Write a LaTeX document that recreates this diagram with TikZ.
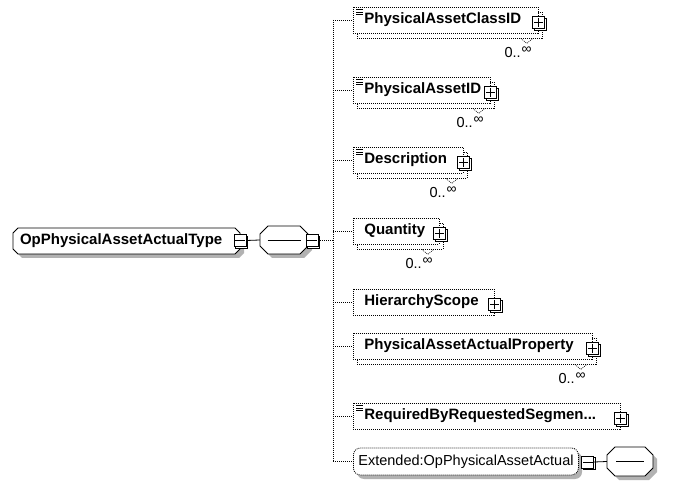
\documentclass[tikz,border=0pt]{standalone}
\usepackage{fontspec}
\setmainfont{Liberation Sans}
\usetikzlibrary{calc,shadows}
\colorlet{shadowgrey}{black!30}
% chamfered outline with a soft grey shadow: x1, y1, x2, y2, chamfer
\newcommand\octobox[5]{%
  \fill[shadowgrey] ({#1+#5+4},{#2+4}) -- ({#3-#5+4},{#2+4}) -- ({#3+4},{#2+#5+4}) -- ({#3+4},{#4-#5+4})
    -- ({#3-#5+4},{#4+4}) -- ({#1+#5+4},{#4+4}) -- ({#1+4},{#4-#5+4}) -- ({#1+4},{#2+#5+4}) -- cycle;
  \draw[line width=0.8pt,fill=white] ({#1+#5},#2) -- ({#3-#5},#2) -- (#3,{#2+#5}) -- (#3,{#4-#5})
    -- ({#3-#5},#4) -- ({#1+#5},#4) -- (#1,{#4-#5}) -- (#1,{#2+#5}) -- cycle;}
\begin{document}
\begin{tikzpicture}[x=1pt,y=-1pt,
  dotline/.style={line width=0.8pt,dash pattern=on 1pt off 1pt},
  namefont/.style={font=\fontsize{15}{18}\selectfont\bfseries},
  plainfont/.style={font=\fontsize{14.5}{17}\selectfont},
  elem/.style={rectangle,draw,dotline,fill=white,namefont,minimum height=26pt,
    inner xsep=11pt,inner ysep=0pt,align=left,anchor=west},
  multi/.style={general shadow={shadow xshift=4pt,shadow yshift=-5pt,draw=black,fill=white,dotline}},
  btn/.style={rectangle,draw,fill=white,line width=0.8pt,minimum size=12pt,inner sep=0pt,
    general shadow={shadow xshift=1.5pt,shadow yshift=-1.5pt,draw=black,fill=white,line width=0.8pt}},
  minusbtn/.style={btn,path picture={\draw[line width=0.8pt] ($(path picture bounding box.center)+(-5,0)$) -- +(10,0);}},
  plusbtn/.style={btn,path picture={
     \draw[line width=0.8pt] ($(path picture bounding box.center)+(-4.5,0)$) -- +(9,0);
     \draw[line width=0.8pt] ($(path picture bounding box.center)+(0,-4.5)$) -- +(0,9);}},
  octo/.style={rectangle,inner sep=0pt},
  card/.style={plainfont,inner sep=0pt,anchor=base east},
  notch/.style={line width=0.6pt,dash pattern=on 1pt off 1pt},
  docline/.style={line width=0.6pt}
]
\useasboundingbox (0,0) rectangle (678,486);
\fill[white] (0,0) rectangle (678,486);

% spine of the sequence
\coordinate (bus) at (333,240);

% root element and its sequence compositor
\octobox{13}{228}{240}{254}{5}
\octobox{260}{226}{308}{254}{8}
\node[rectangle,namefont,minimum width=227pt,minimum height=26pt,inner xsep=7pt,inner ysep=0pt,
  text width=213pt,align=left] (root) at (126.5,241) {OpPhysicalAssetActualType};
\node[octo,minimum width=48pt,minimum height=28pt] (seq) at (284,240) {};
\draw[line width=0.8pt] ($(seq.center)+(-16.5,0)$) -- +(33,0);
\node[minusbtn] (rootbtn) at (240,240.5) {};
\node[minusbtn] (seqbtn) at (312,240.5) {};
\draw[line width=0.8pt] (rootbtn.east) -- (seq.west);

% children
\node[elem,multi,text width=163pt] (c1) at (353,20) {PhysicalAssetClassID};
\node[elem,multi,text width=115pt] (c2) at (353,90) {PhysicalAssetID};
\node[elem,multi,text width=88pt] (c3) at (353,160) {Description};
\node[elem,multi,text width=64pt] (c4) at (353,231) {Quantity};
\node[elem,text width=119pt] (c5) at (353,302) {HierarchyScope};
\node[elem,multi,text width=217pt] (c6) at (353,346) {PhysicalAssetActualProperty};
\node[elem,text width=245pt] (c7) at (353,416) {RequiredByRequestedSegmen...};
\fill[shadowgrey,rounded corners=7pt] (357,452) rectangle (582,479);
\node[rectangle,rounded corners=7pt,draw,dotline,fill=white,plainfont,
  minimum height=27pt,inner xsep=5pt,inner ysep=0pt,text width=215pt,align=left,anchor=west]
  (c8) at (353,461.5) {Extended:OpPhysicalAssetActual};

% connectors from the spine
\draw[dotline] (seqbtn.east) -- (seqbtn.east -| bus);
\draw[dotline] (c1.west -| bus) -- (c8.west -| bus);
\foreach \c in {c1,c2,c3,c4,c5,c6,c7,c8}
  \draw[dotline] (\c.west -| bus) -- (\c.west);

% expand buttons
\foreach \c in {c1,c2,c3,c4,c5,c6,c7}
  \node[plusbtn] (\c btn) at ($(\c.east)+(0,2.5)$) {};

% documentation marks
\foreach \c in {c1,c2,c3,c7}
  \foreach \d in {3,5.5,8}
    \draw[docline] ($(\c.north west)+(3,\d)$) -- +(7,0);

% occurrence labels
\foreach \c in {c1,c2,c3,c4,c6}{
  \draw[notch] ($(\c.south east)+(-18,5)$) -- ++(6,5) -- ++(6,-5);
  \node[card] (\c occ) at ($(\c.south east)+(-7,24)$) {0..\hspace{1pt}\raisebox{3.5pt}{\fontsize{14}{14}\selectfont ∞}};
}

% extension branch
\octobox{607}{447}{653}{476}{8}
\node[minusbtn] (xbtn) at ($(c8.east)+(9,0.5)$) {};
\node[octo,minimum width=46pt,minimum height=29pt] (xseq) at (630,461.5) {};
\draw[line width=0.8pt] ($(xseq.center)+(-14,0)$) -- +(28,0);
\draw[line width=0.8pt] (xbtn.east) -- (xseq.west);
\end{tikzpicture}
\end{document}
